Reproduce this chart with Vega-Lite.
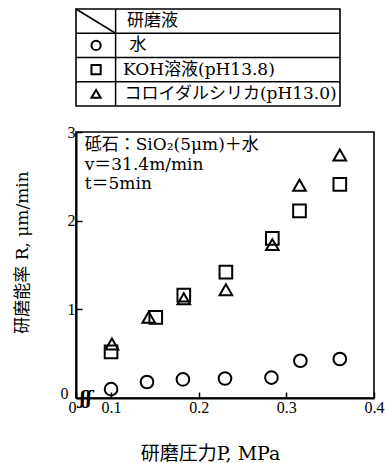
{
  "$schema": "https://vega.github.io/schema/vega-lite/v6.json",
  "background": "white",
  "padding": {"left": 12, "top": 7, "right": 5, "bottom": 5},
  "bounds": "flush",
  "spacing": 26,
  "config": {
    "font": "'DejaVu Serif', 'Noto Sans CJK JP', serif",
    "view": {"stroke": "black", "strokeWidth": 1.6},
    "axis": {
      "grid": false,
      "domainColor": "black",
      "domainWidth": 2,
      "tickColor": "black",
      "tickWidth": 1.5,
      "labelColor": "black",
      "titleColor": "black",
      "labelFont": "'Liberation Serif', 'Noto Sans CJK JP', serif",
      "titleFont": "'DejaVu Serif', 'Noto Sans CJK JP', serif",
      "labelFontSize": 16,
      "titleFontSize": 17,
      "titleFontWeight": "normal"
    },
    "text": {"font": "'DejaVu Serif', 'Noto Sans CJK JP', serif", "fontSize": 17, "color": "black"}
  },
  "resolve": {"scale": {"x": "independent", "y": "independent", "shape": "independent"}},
  "vconcat": [
    {
      "width": 264,
      "height": 97,
      "layer": [
        {
          "data": {"values": [
            {"x1": 0, "x2": 100, "y1": 1, "y2": 1},
            {"x1": 0, "x2": 100, "y1": 2, "y2": 2},
            {"x1": 0, "x2": 100, "y1": 3, "y2": 3},
            {"x1": 15, "x2": 15, "y1": 0, "y2": 4},
            {"x1": 0, "x2": 15, "y1": 0, "y2": 1}
          ]},
          "mark": {"type": "rule", "color": "black", "strokeWidth": 1.5},
          "encoding": {
            "x": {"field": "x1", "type": "quantitative", "scale": {"domain": [0, 100]}, "axis": null},
            "x2": {"field": "x2"},
            "y": {"field": "y1", "type": "quantitative", "scale": {"domain": [0, 4], "reverse": true}, "axis": null},
            "y2": {"field": "y2"}
          }
        },
        {
          "data": {"values": [
            {"row": 1.5, "fluid": "水"},
            {"row": 2.5, "fluid": "KOH溶液"},
            {"row": 3.5, "fluid": "コロイダルシリカ"}
          ]},
          "mark": {"type": "point", "filled": false, "color": "black", "strokeWidth": 2, "size": 85, "opacity": 1},
          "encoding": {
            "x": {"datum": 7.6, "type": "quantitative"},
            "y": {"field": "row", "type": "quantitative"},
            "shape": {"field": "fluid", "type": "nominal", "legend": null,
              "scale": {"domain": ["水", "KOH溶液", "コロイダルシリカ"], "range": ["circle", "square", "triangle-up"]}}
          }
        },
        {
          "data": {"values": [
            {"row": 0.5, "col": 19.3, "label": "研磨液"},
            {"row": 1.5, "col": 20.3, "label": "水"},
            {"row": 2.5, "col": 17.8, "label": "KOH溶液(pH13.8)"},
            {"row": 3.5, "col": 18.4, "label": "コロイダルシリカ(pH13.0)"}
          ]},
          "mark": {"type": "text", "align": "left", "baseline": "middle", "fontSize": 17},
          "encoding": {
            "x": {"field": "col", "type": "quantitative"},
            "y": {"field": "row", "type": "quantitative"},
            "text": {"field": "label"}
          }
        }
      ]
    },
    {
      "width": 298,
      "height": 266,
      "layer": [
        {
          "data": {"values": [
            {"P": 0.100, "R": 0.10, "fluid": "水"},
            {"P": 0.141, "R": 0.18, "fluid": "水"},
            {"P": 0.182, "R": 0.21, "fluid": "水"},
            {"P": 0.230, "R": 0.22, "fluid": "水"},
            {"P": 0.283, "R": 0.23, "fluid": "水"},
            {"P": 0.316, "R": 0.42, "fluid": "水"},
            {"P": 0.361, "R": 0.44, "fluid": "水"},
            {"P": 0.100, "R": 0.52, "fluid": "KOH溶液"},
            {"P": 0.151, "R": 0.91, "fluid": "KOH溶液"},
            {"P": 0.183, "R": 1.16, "fluid": "KOH溶液"},
            {"P": 0.231, "R": 1.42, "fluid": "KOH溶液"},
            {"P": 0.284, "R": 1.80, "fluid": "KOH溶液"},
            {"P": 0.315, "R": 2.11, "fluid": "KOH溶液"},
            {"P": 0.361, "R": 2.41, "fluid": "KOH溶液"},
            {"P": 0.101, "R": 0.61, "fluid": "コロイダルシリカ"},
            {"P": 0.143, "R": 0.91, "fluid": "コロイダルシリカ"},
            {"P": 0.183, "R": 1.12, "fluid": "コロイダルシリカ"},
            {"P": 0.231, "R": 1.22, "fluid": "コロイダルシリカ"},
            {"P": 0.284, "R": 1.73, "fluid": "コロイダルシリカ"},
            {"P": 0.315, "R": 2.40, "fluid": "コロイダルシリカ"},
            {"P": 0.361, "R": 2.74, "fluid": "コロイダルシリカ"}
          ]},
          "mark": {"type": "point", "filled": false, "color": "black", "strokeWidth": 2, "size": 160, "opacity": 1},
          "encoding": {
            "x": {
              "field": "P", "type": "quantitative",
              "scale": {"domain": [0.06, 0.4], "nice": false, "zero": false},
              "axis": {
                "title": "研磨圧力P, MPa",
                "titleFontSize": 19,
                "titleX": 134,
                "titleAlign": "center",
                "values": [0.06, 0.1, 0.2, 0.3, 0.4],
                "labelExpr": "datum.value < 0.08 ? '0' : format(datum.value, '.1f')",
                "labelOffset": {"condition": {"test": "datum.value < 0.08", "value": -4}, "value": 0},
                "tickSize": -6,
                "labelPadding": 7,
                "labelFlush": false,
                "labelOverlap": false,
                "titlePadding": 29
              }
            },
            "y": {
              "field": "R", "type": "quantitative",
              "scale": {"domain": [0, 3], "nice": false},
              "axis": {
                "title": "研磨能率 R, μm/min",
                "titleY": 120,
                "values": [0, 1, 2, 3],
                "format": "d",
                "labelOffset": {"condition": {"test": "datum.value == 0", "value": -5}, "value": 0},
                "labelPadding": {"condition": {"test": "datum.value == 0", "value": 14}, "value": 7},
                "tickSize": -6,
                "titlePadding": 29
              }
            },
            "shape": {"field": "fluid", "type": "nominal", "legend": null,
              "scale": {"domain": ["水", "KOH溶液", "コロイダルシリカ"], "range": ["circle", "square", "triangle-up"]}}
          }
        },
        {
          "data": {"values": [{}]},
          "mark": {"type": "text", "align": "left", "baseline": "middle", "fontSize": 17, "lineBreak": "\n", "lineHeight": 19.5},
          "encoding": {
            "x": {"datum": 0.0699, "type": "quantitative"},
            "y": {"datum": 2.853, "type": "quantitative"},
            "text": {"value": "砥石：SiO₂(5μm)＋水\nv＝31.4m/min\nt＝5min"}
          }
        },
        {
          "data": {"values": [{}]},
          "mark": {"type": "text", "align": "center", "baseline": "middle", "fontSize": 18, "fontStyle": "italic", "fontWeight": "bold"},
          "encoding": {
            "x": {"datum": 0.0712, "type": "quantitative"},
            "y": {"datum": -0.01, "type": "quantitative"},
            "text": {"value": "ʃʃ"}
          }
        }
      ]
    }
  ]
}
